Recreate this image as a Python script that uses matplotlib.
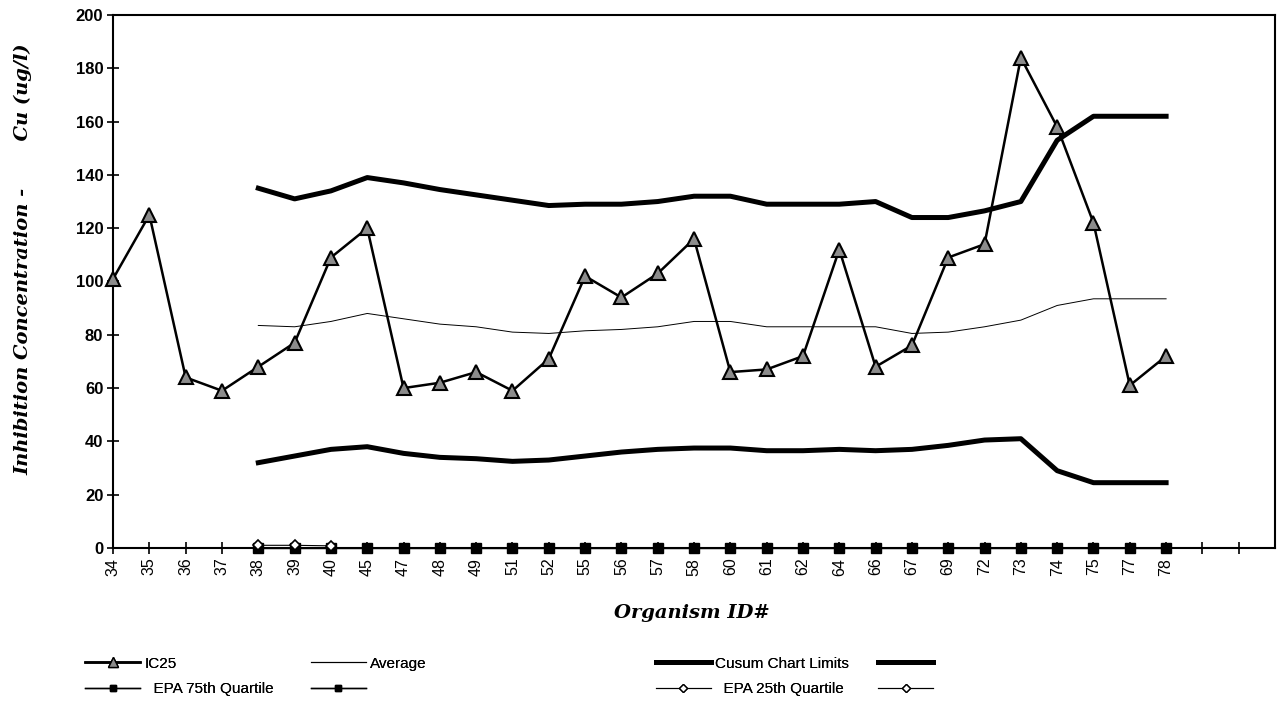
import matplotlib
matplotlib.use("Agg")
from matplotlib import pyplot as plt
from matplotlib.lines import Line2D

organism_ids = ["34", "35", "36", "37", "38", "39", "40", "45", "47", "48", "49", "51", "52", "55", "56",
                "57", "58", "60", "61", "62", "64", "66", "67", "69", "72", "73", "74", "75", "77", "78"]
ic25 = [101, 125, 64, 59, 68, 77, 109, 120, 60, 62, 66, 59, 71, 102, 94,
        103, 116, 66, 67, 72, 112, 68, 76, 109, 114, 184, 158, 122, 61, 72]

# the control chart series start at organism 38
chart_ids = organism_ids[4:]
average = [83.5, 83, 85, 88, 86, 84, 83, 81, 80.5, 81.5, 82, 83, 85, 85, 83, 83, 83, 83, 80.5, 81,
           83, 85.5, 91, 93.5, 93.5, 93.5]
cusum_upper = [135, 131, 134, 139, 137, 134.5, 132.5, 130.5, 128.5, 129, 129, 130, 132, 132, 129, 129,
               129, 130, 124, 124, 126.5, 130, 153, 162, 162, 162]
cusum_lower = [32, 34.5, 37, 38, 35.5, 34, 33.5, 32.5, 33, 34.5, 36, 37, 37.5, 37.5, 36.5, 36.5,
               37, 36.5, 37, 38.5, 40.5, 41, 29, 24.5, 24.5, 24.5]
epa_75th = [0] * len(chart_ids)
epa_25th_ids = ["38", "39", "40"]
epa_25th = [1, 1, 0.8]


def main():
    plt.rcParams["font.family"] = ["Liberation Sans", "DejaVu Sans"]
    fig = plt.figure(figsize=(12.79, 7.11), dpi=100)
    ax = fig.add_axes([0.0884, 0.2293, 0.9085, 0.7496])

    pos = {name: i for i, name in enumerate(organism_ids)}
    x_all = [pos[n] for n in organism_ids]
    x_chart = [pos[n] for n in chart_ids]
    x_25 = [pos[n] for n in epa_25th_ids]

    ax.plot(x_chart, epa_75th, color="black", lw=1.0, marker="s", ms=6.5, zorder=6, clip_on=False)
    ax.plot(x_25, epa_25th, color="black", lw=0.8, marker="D", ms=5, mfc="white", mew=1.2, zorder=7,
            clip_on=False)
    ax.plot(x_chart, average, color="black", lw=0.7, zorder=2)
    ax.plot(x_chart, cusum_upper, color="black", lw=3.6, solid_joinstyle="round", zorder=2)
    ax.plot(x_chart, cusum_lower, color="black", lw=3.6, solid_joinstyle="round", zorder=2)
    ax.plot(x_all, ic25, color="black", lw=1.8, marker="^", ms=10, mfc="#8c8c8c", mec="black",
            mew=1.5, zorder=5, clip_on=False)

    ax.set_xlim(0, 32)
    ax.set_ylim(0, 200)
    ax.set_xticks(range(0, 32))
    ax.set_xticklabels(organism_ids + ["", ""], rotation=90, fontsize=11.5)
    ax.set_yticks(range(0, 201, 20))
    ax.set_yticklabels([str(v) for v in range(0, 201, 20)], fontsize=12, fontweight="bold")
    ax.tick_params(axis="both", direction="inout", length=8, width=1.2, pad=3)
    for side in ["left", "bottom", "top", "right"]:
        ax.spines[side].set_linewidth(1.5)

    fig.text(0.018, 0.635, "Inhibition Concentration -       Cu (ug/l)", rotation=90, ha="center",
             va="center", family="DejaVu Serif", style="italic", fontweight="bold", fontsize=14)
    fig.text(0.541, 0.138, "Organism ID#", ha="center", va="center", family="DejaVu Serif",
             style="italic", fontweight="bold", fontsize=14)

    h_ic = Line2D([], [], color="black", lw=1.8, marker="^", ms=7, mfc="#8c8c8c", mec="black")
    h_avg = Line2D([], [], color="black", lw=0.8)
    h_cus = Line2D([], [], color="black", lw=3.6)
    h_sq = Line2D([], [], color="black", lw=1.0, marker="s", ms=5)
    h_dm = Line2D([], [], color="black", lw=0.8, marker="D", ms=4, mfc="white")

    columns = [
        (0.062, [h_ic, h_sq], ["IC25", "  EPA 75th Quartile"]),
        (0.238, [h_avg, h_sq], ["Average", ""]),
        (0.508, [h_cus, h_dm], ["Cusum Chart Limits", "  EPA 25th Quartile"]),
        (0.682, [h_cus, h_dm], ["", ""]),
    ]
    for x0, handles, labels in columns:
        leg = fig.legend(handles, labels, loc="upper left", bbox_to_anchor=(x0, 0.085), frameon=False,
                         fontsize=11, handlelength=3.6, handletextpad=0.3, labelspacing=0.75,
                         borderaxespad=0)
        fig.add_artist(leg)

    fig.savefig("out.png", dpi=100)


if __name__ == "__main__":
    main()
